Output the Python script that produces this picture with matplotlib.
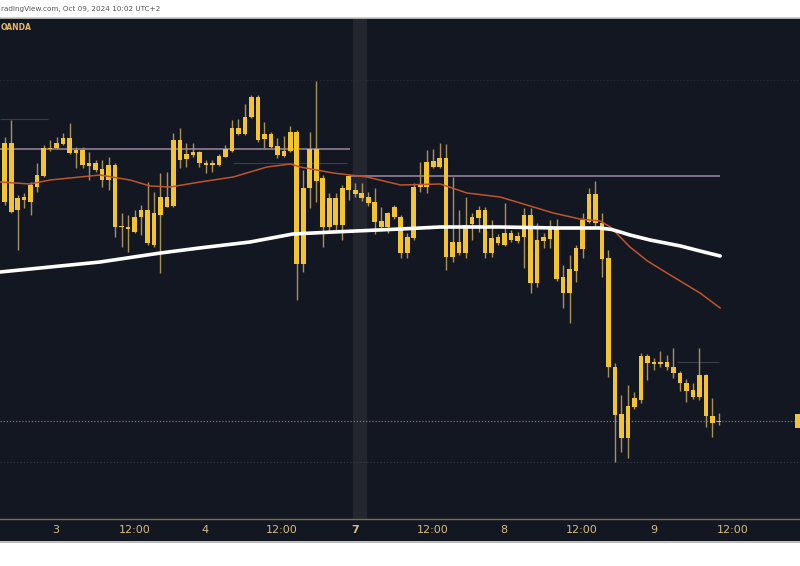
import matplotlib.pyplot as plt
from matplotlib.patches import Rectangle

# candle data, in chart rows (smaller = higher price)
body_top = [143, 143, 198, 197, 185, 175, 148, 148, 143, 138, 138, 150, 150, 163, 163, 169, 165, 165, 226, 227,
            217, 210, 210, 213, 197, 197, 140, 140, 154, 152, 152, 163, 163, 156, 149, 128, 128, 117, 97, 97,
            134, 134, 146, 151, 132, 132, 188, 149, 149, 178, 198, 198, 188, 176, 190, 193, 197, 202, 221, 213,
            207, 217, 237, 187, 185, 162, 161, 158, 158, 242, 242, 225, 217, 210, 210, 238, 237, 233, 233, 236,
            215, 215, 240, 237, 228, 229, 277, 269, 248, 220, 194, 194, 223, 258, 367, 414, 406, 398, 356, 356,
            362, 362, 362, 367, 373, 383, 390, 375, 375, 416, 421]
body_bot = [202, 212, 210, 200, 202, 187, 176, 149, 148, 144, 153, 153, 165, 166, 170, 180, 180, 227, 227, 229,
            232, 217, 243, 245, 215, 207, 206, 160, 159, 155, 163, 165, 165, 165, 157, 151, 134, 134, 117, 140,
            139, 147, 155, 156, 151, 264, 264, 188, 181, 227, 227, 225, 225, 190, 194, 198, 203, 222, 227, 227,
            217, 253, 253, 238, 187, 187, 167, 167, 257, 257, 253, 253, 224, 218, 253, 253, 243, 245, 240, 241,
            237, 283, 283, 241, 239, 279, 293, 293, 271, 249, 222, 223, 259, 367, 415, 438, 438, 407, 400, 363,
            364, 364, 367, 373, 383, 391, 397, 397, 416, 423, 422]
wick_hi = [137, 120, 195, 193, 182, 163, 145, 140, 137, 133, 123, 147, 147, 152, 160, 160, 157, 163, 213, 215,
           210, 205, 182, 192, 173, 172, 133, 128, 143, 143, 151, 160, 160, 154, 145, 120, 119, 104, 95, 95,
           122, 132, 138, 136, 126, 130, 170, 132, 81, 175, 193, 193, 185, 175, 183, 183, 192, 188, 207, 212,
           205, 215, 233, 183, 162, 150, 149, 143, 144, 177, 210, 197, 213, 206, 207, 220, 234, 203, 230, 232,
           208, 208, 223, 233, 220, 219, 265, 255, 245, 213, 188, 181, 213, 250, 363, 395, 385, 392, 353, 354,
           358, 351, 355, 348, 371, 379, 383, 348, 374, 398, 413]
wick_lo = [205, 213, 250, 208, 215, 192, 177, 151, 149, 145, 154, 168, 168, 180, 172, 187, 190, 237, 247, 252,
           233, 235, 245, 247, 273, 207, 207, 168, 167, 157, 167, 173, 172, 166, 157, 152, 135, 135, 118, 142,
           148, 148, 158, 157, 152, 300, 272, 208, 202, 247, 233, 230, 240, 200, 197, 201, 206, 234, 230, 233,
           219, 258, 258, 240, 192, 193, 168, 168, 270, 262, 255, 258, 240, 232, 258, 257, 245, 246, 242, 243,
           268, 293, 287, 248, 248, 281, 308, 323, 282, 258, 223, 228, 277, 377, 462, 452, 458, 409, 403, 380,
           370, 367, 370, 378, 391, 402, 399, 400, 427, 437, 425]

# moving averages (bar index, row)
ma_slow_x = [-0.7, 7, 14.7, 24, 30, 37.8, 44.4, 50.6, 61, 67.1, 76.3, 85, 91.7, 93.5, 94.8, 96.3, 99.4,
             104.1, 107.1, 110.2]
ma_slow_y = [272, 267, 262, 253, 248, 242, 234, 232, 229, 227, 227, 228, 228, 229.5, 232, 235, 240,
             246, 251, 256]
ma_fast_x = [-0.7, 3.9, 7, 11.6, 14.7, 19.3, 22.4, 25.5, 30.1, 35.2, 40.4, 44, 45.5, 50.6, 55.8, 61, 67.1,
             71.2, 76.3, 79.4, 84.5, 88.6, 91.7, 93.3, 94.8, 96.3, 99, 102, 107.1, 110.2]
ma_fast_y = [182, 184, 180, 177, 175, 180, 186, 187, 182, 177, 167, 164, 167, 173, 177, 185, 184,
             193, 197, 203, 213, 219, 221, 227, 237, 247, 261, 273, 293, 308]

tick_pos = [7.9, 20.0, 30.9, 42.7, 54.0, 66.0, 76.9, 88.9, 100.0, 112.1]
tick_lab = ['3', '12:00', '4', '12:00', '7', '12:00', '8', '12:00', '9', '12:00']

W, H = 800, 566
bg = '#131722'
gold = '#f4c430'
wick_c = '#a8925c'
narrow = ['Liberation Sans Narrow', 'DejaVu Sans']

fig = plt.figure(figsize=(W / 100, H / 100), dpi=100, facecolor='white')
fig.patches.append(Rectangle((0, (H - 541) / H), 1, (541 - 18) / H, transform=fig.transFigure,
                             facecolor=bg, edgecolor='none', zorder=-10))
fig.add_artist(plt.Line2D([0, 1], [(H - 17.5) / H] * 2, color='#c8c8c8', lw=1.2))
fig.add_artist(plt.Line2D([0, 1], [(H - 541.5) / H] * 2, color='#b0b0b0', lw=1.2))

ax = fig.add_axes([0, (H - 519) / H, 1, (519 - 18) / H])
ax.set_facecolor(bg)
ax.set_xlim(-0.72, 122.5)
ax.set_ylim(519, 18)

idx = list(range(len(body_top)))

# crosshair column
ax.axvspan(53.7, 55.7, color='#23262f', zorder=0)

# horizontal levels
ax.hlines(149, -0.7, 53.2, color='#7d7088', lw=1.4, zorder=1)
ax.hlines(176, 53.2, 110.2, color='#7d7088', lw=1.4, zorder=1)
ax.hlines(163, 35.2, 52.7, color='#3a3d4a', lw=0.8, zorder=1)
ax.hlines(119, -0.7, 6.7, color='#3a3d4a', lw=0.8, zorder=1)
ax.hlines(362, 103.6, 110, color='#3a3d4a', lw=0.8, zorder=1)
ax.axhline(80, color='#2a2d38', lw=0.8, ls=(0, (1, 2)), zorder=1)
ax.axhline(462, color='#3a3d48', lw=0.8, ls=(0, (1, 2)), zorder=1)
ax.axhline(421, color='#8a7a40', lw=0.9, ls=(0, (1, 1.5)), zorder=1)

# candles
ax.vlines(idx, wick_hi, wick_lo, color=wick_c, lw=1.0, zorder=2)
heights = [max(b - t, 1.2) for t, b in zip(body_top, body_bot)]
ax.bar(idx, heights, bottom=body_top, width=0.72, color=gold, edgecolor='none', zorder=3)

# moving averages
ax.plot(ma_fast_x, ma_fast_y, color='#c0542c', lw=1.1, zorder=4)
ax.plot(ma_slow_x, ma_slow_y, color='white', lw=2.6, zorder=5, solid_capstyle='round')

# price label stub at right edge
ax.add_patch(Rectangle((121.8, 414), 1.0, 14, facecolor=gold, edgecolor='none', zorder=6))

for s in ['top', 'left', 'right']:
    ax.spines[s].set_visible(False)
ax.spines['bottom'].set_color('#7a6c4c')
ax.spines['bottom'].set_linewidth(1.0)
ax.set_yticks([])
ax.set_xticks(tick_pos, tick_lab)
ax.tick_params(axis='x', length=0, pad=4.5, colors='#d7bc82', labelsize=8)
for lab in ax.get_xticklabels():
    lab.set_family(narrow)
    if lab.get_text() == '7':
        lab.set_fontweight('bold')

fig.text(1 / W, (H - 9) / H, 'radingView.com, Oct 09, 2024 10:02 UTC+2', color='#555555',
         fontsize=5.2, va='center', ha='left', family=narrow)
fig.text(1 / W, (H - 27) / H, 'OANDA', color='#e3b866', fontsize=5.5, fontweight='bold',
         va='center', ha='left', family=narrow)

fig.savefig('out.png', dpi=100, facecolor='white')
